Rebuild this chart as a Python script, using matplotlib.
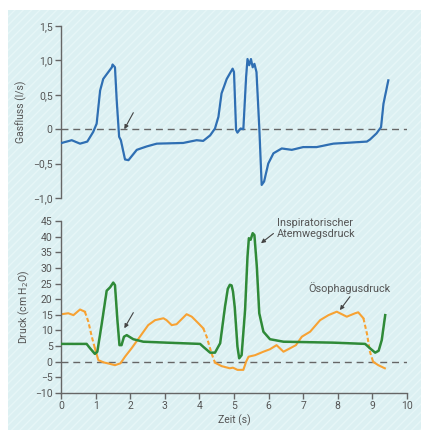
import numpy as np
import matplotlib.pyplot as plt
from matplotlib.patches import Rectangle

plt.rcParams['font.family'] = ['Roboto', 'DejaVu Sans']

# Gasfluss (l/s)
flow_t = [0.02, 0.31, 0.55, 0.76, 0.93, 1.03, 1.13, 1.22, 1.47, 1.49, 1.56, 1.61, 1.68, 1.73,
          1.85, 1.95, 2.19, 2.48, 2.77, 3.53, 3.92, 4.11, 4.31, 4.45, 4.55, 4.64, 4.79, 4.96,
          5.0, 5.06, 5.1, 5.19, 5.27, 5.35, 5.39, 5.44, 5.49, 5.54, 5.59, 5.65, 5.73, 5.8,
          5.87, 5.99, 6.14, 6.38, 6.67, 7.0, 7.39, 7.87, 8.84, 8.93, 9.12, 9.25, 9.32, 9.46]
flow_v = [-0.2, -0.16, -0.21, -0.18, -0.04, 0.08, 0.56, 0.73, 0.9, 0.94, 0.9, 0.42, -0.11, -0.16,
          -0.44, -0.45, -0.3, -0.25, -0.21, -0.2, -0.16, -0.17, -0.09, 0.01, 0.18, 0.52, 0.73, 0.88,
          0.83, -0.01, -0.05, 0.01, 0.0, 0.76, 1.02, 0.93, 1.02, 0.9, 0.95, 0.83, 0.03, -0.81,
          -0.76, -0.5, -0.35, -0.28, -0.3, -0.26, -0.26, -0.21, -0.18, -0.15, -0.06, 0.03, 0.37, 0.71]

# Inspiratorischer Atemwegsdruck (cm H2O)
paw_t = [0.02, 0.74, 0.84, 0.98, 1.05, 1.18, 1.32, 1.42, 1.51, 1.56, 1.63, 1.69, 1.75, 1.82,
         1.9, 2.09, 2.38, 3.05, 4.02, 4.11, 4.31, 4.45, 4.6, 4.74, 4.82, 4.88, 4.93, 4.97, 5.02,
         5.1, 5.15, 5.22, 5.32, 5.39, 5.43, 5.48, 5.54, 5.59, 5.66, 5.73, 5.85, 6.04, 6.43,
         7.87, 8.79, 8.93, 9.08, 9.18, 9.27, 9.37]
paw_v = [5.7, 5.7, 4.3, 2.5, 3.2, 12.3, 22.7, 23.8, 25.3, 24.5, 13.3, 5.3, 5.3, 8.0,
         8.5, 7.2, 6.4, 6.1, 5.7, 4.8, 2.9, 2.9, 5.9, 17.6, 23.3, 24.6, 24.4, 22.5, 17.6,
         4.8, 1.1, 2.1, 16.5, 33.6, 39.5, 39.0, 41.1, 40.5, 30.4, 15.5, 9.6, 7.2, 6.4,
         6.1, 5.7, 4.3, 2.9, 3.5, 6.9, 14.9]

# Ösophagusdruck (cm H2O)
pes_t = [0.02, 0.21, 0.36, 0.55, 0.69, 0.79, 0.89, 0.98, 1.08, 1.23, 1.42, 1.56, 1.72, 1.85,
         2.04, 2.28, 2.52, 2.72, 2.96, 3.05, 3.2, 3.34, 3.63, 3.78, 3.97, 4.11, 4.21, 4.35,
         4.45, 4.64, 4.88, 4.97, 5.1, 5.27, 5.35, 5.42, 5.61, 5.85, 6.04, 6.23, 6.43, 6.62,
         6.79, 6.96, 7.2, 7.49, 7.73, 7.97, 8.26, 8.5, 8.59, 8.74, 8.84, 8.93, 9.02, 9.17, 9.36]
pes_v = [15.2, 15.5, 14.9, 16.7, 16.0, 12.8, 8.0, 4.3, 0.5, -0.2, -0.7, -1.1, -0.5, 1.6,
         4.3, 8.0, 11.7, 13.3, 13.9, 13.3, 11.7, 12.0, 15.2, 14.4, 12.3, 10.7, 8.0, 2.7,
         -0.3, -1.4, -2.1, -1.9, -2.6, -2.6, 0.0, 1.6, 2.1, 3.2, 4.0, 5.3, 3.2, 4.3,
         5.3, 8.0, 9.6, 13.3, 14.9, 16.0, 14.4, 15.5, 15.8, 13.9, 9.1, 3.2, 0.0, -1.1, -2.1]
pes_dashed = [(0.69, 0.98), (4.11, 4.45), (8.74, 9.02)]

text_c = '#555555'
blue = '#2f6fb3'
green = '#2f8a38'
orange = '#f7a233'

fig = plt.figure(figsize=(4.21, 4.30), dpi=100)
fig.patch.set_facecolor('white')
fig.patches.append(Rectangle((8 / 421, 0), 1, 1 - 10 / 430, transform=fig.transFigure,
                             facecolor='#dcf0f2', edgecolor='#e6f6f7', hatch='////',
                             linewidth=0, zorder=-10))

ax1 = fig.add_axes([61 / 421, 1 - 198 / 430, 346 / 421, 172 / 430])
ax2 = fig.add_axes([61 / 421, 1 - 393 / 430, 346 / 421, 172 / 430])

for ax in (ax1, ax2):
    ax.set_facecolor('none')
    for s in ('top', 'right'):
        ax.spines[s].set_visible(False)
    for s in ('left', 'bottom'):
        ax.spines[s].set_color('#666666')
        ax.spines[s].set_linewidth(1.0)
    ax.tick_params(direction='out', length=4, width=1, color='#666666',
                   labelcolor=text_c, labelsize=7.5, pad=2)
    ax.set_xlim(0, 10)
    ax.axhline(0, color='#666666', lw=1, ls=(0, (5, 3.5)), zorder=1)

# top panel
ax1.spines['bottom'].set_visible(False)
ax1.set_xticks([])
ax1.set_ylim(-1.0, 1.5)
ax1.set_yticks([-1.0, -0.5, 0, 0.5, 1.0, 1.5])
ax1.set_yticklabels(['\u22121,0', '\u22120,5', '0', '0,5', '1,0', '1,5'])
ax1.plot(flow_t, flow_v, color=blue, lw=1.6, zorder=3)
ax1.set_ylabel('Gasfluss (l/s)', color=text_c, fontsize=7.5, labelpad=4)
ax1.annotate('', xy=(1.83, 0.0), xytext=(2.09, 0.24),
             arrowprops=dict(arrowstyle='-|>', color='#444444', lw=0.8,
                             mutation_scale=6, shrinkA=0, shrinkB=0))

# bottom panel
ax2.set_ylim(-10, 45)
ax2.set_yticks(range(-10, 50, 5))
ax2.set_yticklabels([str(v).replace('-', '\u2212') for v in range(-10, 50, 5)])
ax2.set_xticks(range(0, 11))

pt = np.array(pes_t)
pv = np.array(pes_v)
solid = np.ones(len(pt), bool)
for a, b in pes_dashed:
    solid &= ~((pt > a) & (pt < b))
pv_solid = np.where(solid, pv, np.nan)
ax2.plot(pt, pv_solid, color=orange, lw=1.5, zorder=2)
for a, b in pes_dashed:
    m = (pt >= a) & (pt <= b)
    ax2.plot(pt[m], pv[m], color=orange, lw=1.5, ls=(0, (2, 1.2)), zorder=2)

ax2.plot(paw_t, paw_v, color=green, lw=1.8, zorder=3)

ax2.set_ylabel('Druck (cm H$_2$O)', color=text_c, fontsize=7.5, labelpad=2)
ax2.set_xlabel('Zeit (s)', color=text_c, fontsize=7.5, labelpad=2)

arrow = dict(arrowstyle='-|>', color='#444444', lw=0.8, mutation_scale=6, shrinkA=0, shrinkB=0)
ax2.annotate('', xy=(1.83, 10.7), xytext=(2.09, 15.7), arrowprops=arrow)
ax2.annotate('', xy=(5.78, 37.9), xytext=(6.14, 41.0), arrowprops=arrow)
ax2.annotate('', xy=(8.06, 16.5), xytext=(8.35, 20.8), arrowprops=arrow)
ax2.text(6.24, 42.6, 'Inspiratorischer\nAtemwegsdruck', color=text_c, fontsize=7.8,
         ha='left', va='center', linespacing=1.1)
ax2.text(7.14, 23.7, 'Ösophagusdruck', color=text_c, fontsize=7.8, ha='left', va='center')

fig.savefig('out.png', dpi=100)
